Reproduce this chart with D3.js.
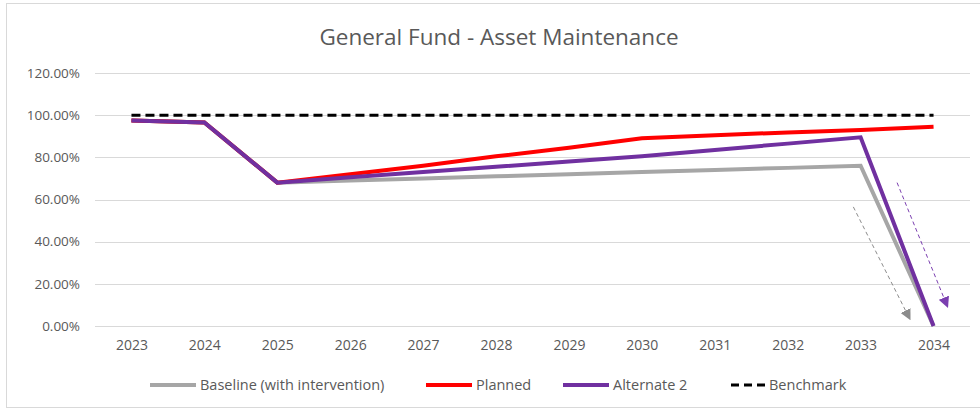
<!DOCTYPE html>
<html>
<head>
<meta charset="utf-8">
<script src="https://cdn.jsdelivr.net/npm/d3@7"></script>
<style>
  body { margin: 0; background: #fff; }
  text { font-family: "Open Sans", sans-serif; fill: #595959; }
</style>
</head>
<body>
<div id="chart"></div>
<script>
// data
var years = ["2023", "2024", "2025", "2026", "2027", "2028", "2029", "2030", "2031", "2032", "2033", "2034"];
var baseline = [97.5, 96.5, 68, 69, 70, 71, 72, 73, 74, 75, 76, 0];
var planned = [97.5, 96.5, 68, 72, 76, 80.5, 84.5, 89, 90.5, 91.8, 93, 94.5];
var alternate2 = [97.5, 96.5, 68, 70.5, 73, 75.5, 78, 80.5, 83.5, 86.5, 89.5, 0];
var benchmark = [100, 100, 100, 100, 100, 100, 100, 100, 100, 100, 100, 100];
var yTicks = [0, 20, 40, 60, 80, 100, 120];
// dashed annotation arrows, in year / percent units
var arrows = [
  {color: "#8c8c8c", from: [2032.9, 56.5], to: [2033.65, 5]},
  {color: "#7b3fb0", from: [2033.5, 68], to: [2034.17, 11]}
];

var series = [
  {name: "Baseline (with intervention)", values: baseline, color: "#a6a6a6", dash: null},
  {name: "Planned", values: planned, color: "#ff0000", dash: null},
  {name: "Alternate 2", values: alternate2, color: "#7030a0", dash: null},
  {name: "Benchmark", values: benchmark, color: "#000000", dash: "9,5"}
];

var width = 980, height = 412;
var svg = d3.select("#chart").append("svg")
    .attr("width", width)
    .attr("height", height);

svg.append("rect")
    .attr("x", 6.5).attr("y", 3.5)
    .attr("width", 980).attr("height", 404)
    .attr("fill", "#fff")
    .attr("stroke", "#d9d9d9");

var x = d3.scalePoint()
    .domain(years)
    .range([95, 970])
    .padding(0.5);

var y = d3.scaleLinear()
    .domain([0, 120])
    .range([326, 73]);

var step = x.step();
function xNum(v) {
  return x(years[0]) + (v - +years[0]) * step;
}

// title
svg.append("text")
    .attr("x", 499).attr("y", 45)
    .attr("text-anchor", "middle")
    .attr("font-size", "22.5px")
    .text("General Fund - Asset Maintenance");

// gridlines
svg.append("g")
    .selectAll("line")
    .data(yTicks)
    .enter()
    .append("line")
    .attr("x1", 95).attr("x2", 970)
    .attr("y1", function (d) { return Math.round(y(d)) + 0.5; })
    .attr("y2", function (d) { return Math.round(y(d)) + 0.5; })
    .attr("stroke", "#d9d9d9")
    .attr("stroke-width", 1);

// y axis labels
var yAxis = svg.append("g")
    .attr("transform", "translate(80,0)")
    .call(d3.axisLeft(y).tickValues(yTicks).tickSize(0).tickPadding(0)
        .tickFormat(function (d) { return d3.format(".2f")(d) + "%"; }));
yAxis.select(".domain").remove();
yAxis.selectAll("text").attr("font-size", "13.5px").attr("font-family", null);

// x axis labels
var xAxis = svg.append("g")
    .attr("transform", "translate(0,340)")
    .call(d3.axisBottom(x).tickSize(0).tickPadding(0));
xAxis.select(".domain").remove();
xAxis.selectAll("text").attr("font-size", "14px").attr("font-family", null);

// lines
var line = d3.line()
    .x(function (d, i) { return x(years[i]); })
    .y(function (d) { return y(d); });

svg.append("g")
    .selectAll("path")
    .data(series)
    .enter()
    .append("path")
    .attr("d", function (d) { return line(d.values); })
    .attr("fill", "none")
    .attr("stroke", function (d) { return d.color; })
    .attr("stroke-width", function (d) { return d.dash ? 3 : 4; })
    .attr("stroke-dasharray", function (d) { return d.dash; })
    .attr("stroke-linejoin", "miter");

// arrows
var defs = svg.append("defs");
arrows.forEach(function (a, i) {
  defs.append("marker")
      .attr("id", "arrow" + i)
      .attr("viewBox", "0 0 10 10")
      .attr("refX", 5).attr("refY", 5)
      .attr("markerWidth", 11).attr("markerHeight", 11)
      .attr("markerUnits", "userSpaceOnUse")
      .attr("orient", "auto")
      .append("path")
      .attr("d", "M0,0 L10,5 L0,10 z")
      .attr("fill", a.color);
});

svg.append("g")
    .selectAll("line")
    .data(arrows)
    .enter()
    .append("line")
    .attr("x1", function (d) { return xNum(d.from[0]); })
    .attr("y1", function (d) { return y(d.from[1]); })
    .attr("x2", function (d) { return xNum(d.to[0]); })
    .attr("y2", function (d) { return y(d.to[1]); })
    .attr("stroke", function (d) { return d.color; })
    .attr("stroke-width", 1)
    .attr("stroke-dasharray", "4,3")
    .attr("marker-end", function (d, i) { return "url(#arrow" + i + ")"; });

// legend
var legendX = [150, 426, 563, 731];
var legend = svg.append("g")
    .selectAll(".legendItem")
    .data(series)
    .enter()
    .append("g")
    .attr("class", "legendItem")
    .attr("transform", function (d, i) { return "translate(" + legendX[i] + ",385)"; });

legend.append("line")
    .attr("x1", 0).attr("x2", function (d) { return d.dash ? 34 : 46; })
    .attr("y1", 0).attr("y2", 0)
    .attr("stroke", function (d) { return d.color; })
    .attr("stroke-width", function (d) { return d.dash ? 3 : 4; })
    .attr("stroke-dasharray", function (d) { return d.dash ? "8,5" : null; });

legend.append("text")
    .attr("x", function (d) { return d.dash ? 38 : 50; })
    .attr("y", 0)
    .attr("dy", "0.35em")
    .attr("font-size", "14.5px")
    .text(function (d) { return d.name; });
</script>
</body>
</html>
